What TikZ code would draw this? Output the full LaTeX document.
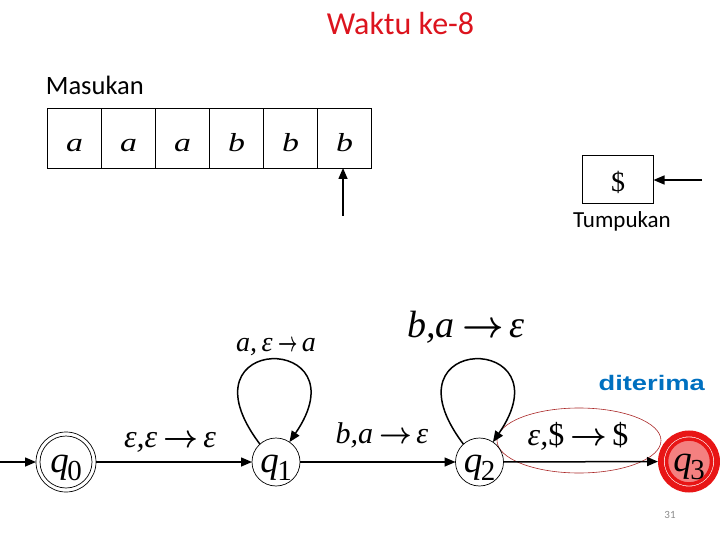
\RequirePackage{fix-cm}
\documentclass[tikz,border=0pt]{standalone}
\usepackage{fontspec}
\usepackage{graphicx}
\newfontfamily\carl{Carlito}
\newfontfamily\arialf{Liberation Sans}
\newfontfamily\tms{Liberation Serif}
\usetikzlibrary{arrows.meta}
\definecolor{titlered}{RGB}{220,20,30}
\definecolor{ringred}{RGB}{232,22,22}
\definecolor{fillred}{RGB}{244,128,128}
\definecolor{ellred}{RGB}{170,40,40}
\definecolor{blu}{RGB}{0,112,192}
\definecolor{pgray}{RGB}{140,140,140}
\newcommand\stname[1]{{\tms\itshape\fontsize{37}{37}\selectfont q\/}\hspace{-1.5pt}\raisebox{-8pt}{\tms\fontsize{29}{29}\selectfont #1}}
\newcommand\tlet[1]{\scalebox{1.3}[1]{\tms\itshape #1}}
% #1 left part, #2 right part, #3 arrow x-scale
\newcommand\trlab[3]{{\tms\itshape #1}\hspace{0.2em}\scalebox{#3}[1]{\boldmath$\rightarrow$}\hspace{0.15em}{\tms\itshape #2}}
\begin{document}
\begin{tikzpicture}[x=1pt,y=-1pt,
 every node/.style={inner sep=0pt,outer sep=0pt},
 cell/.style={draw,line width=0.8pt,minimum width=54pt,minimum height=60pt,text height=28pt,text depth=0pt,font=\fontsize{26}{26}\selectfont},
 edge/.style={line width=1.5pt,-{Triangle[length=11pt,width=9pt]}},
 state/.style={circle,draw,line width=0.7pt,minimum size=48pt,text height=28pt,text depth=8pt},
 lab/.style={font=\fontsize{#1}{#1}\selectfont}
]
\useasboundingbox (0,0) rectangle (720,540);
% titles
\node[anchor=base,text=titlered,font=\carl\fontsize{32}{38}\selectfont] (title) at (400.5,35) {Waktu ke-8};
\node[anchor=base,font=\carl\fontsize{26.5}{30}\selectfont] (mas) at (94.8,95) {Masukan};
\node[anchor=base,font=\carl\fontsize{23}{27}\selectfont] (tum) at (622,228) {Tumpukan};
\node[anchor=base,text=blu,font=\arialf\bfseries\fontsize{21}{25}\selectfont] (dit) at (651.7,390) {\scalebox{1.3}[1]{diterima}};
\node[anchor=base,text=pgray,font=\carl\fontsize{11}{13}\selectfont] (pg) at (670,518.7) {31};
% tape
\node[cell] (c1) at (74.5,138) {\tlet{a}};
\node[cell] (c2) at (128.5,138) {\tlet{a}};
\node[cell] (c3) at (182.5,138) {\tlet{a}};
\node[cell] (c4) at (236.5,138) {\tlet{b}};
\node[cell] (c5) at (290.5,138) {\tlet{b}};
\node[cell] (c6) at (344.5,138) {\tlet{b}};
\coordinate (hd) at (343,216);
\draw[edge] (hd) -- (hd |- c6.south);
% stack
\node[draw,line width=0.8pt,minimum width=71pt,minimum height=48pt,text height=24pt,text depth=0pt,font=\tms\fontsize{28}{28}\selectfont] (st) at (618,179.5) {\$};
\coordinate (sp) at (702,180);
\draw[edge] (sp) -- (sp -| st.east);
% highlight ellipse
\draw[ellred,line width=0.6pt] (579,440.5) ellipse [x radius=82pt,y radius=32.5pt];
% states
\node[state,minimum size=60pt] (q0) at (66,462) {\stname{0}};
\draw[line width=0.7pt] (q0.center) circle (26pt);
\node[state] (q1) at (276,462) {\stname{1}};
\node[state] (q2) at (479.5,462) {\stname{2}};
\node[circle,draw=ringred,line width=6pt,minimum size=56pt,outer sep=3pt,fill=white,text height=28pt,text depth=8pt,
  path picture={\draw[ringred,line width=3.5pt,fill=fillred] (path picture bounding box.center) circle (22.5pt);}] (q3) at (689,461.5) {\stname{3}};
\coordinate (start) at (0,462);
\draw[edge] (start) -- (q0);
\draw[edge] (q0) -- (q1);
\draw[edge] (q1) -- (q2);
\draw[edge] (q2) -- (q3);
\draw[edge] (q1.132) .. controls (175,332) and (365,332) .. (q1.56);
\draw[edge] (q2.132) .. controls (378.5,332) and (568.5,332) .. (q2.56);
% labels
\node[lab=32] (l01) at (170,442) {\trlab{ε,ε}{ε}{0.95}};
\node[lab=30] (l12) at (382,435) {\trlab{b,a}{ε}{0.95}};
\node[lab=28] (l11) at (276,347) {\trlab{a,\,ε}{a}{0.6}};
\node[lab=38] (l22) at (466,327) {\trlab{b,a}{ε}{0.95}};
\node[lab=32] (l23) at (578,436.5) {\trlab{ε,{\upshape\$}}{\upshape\$}{1}};
\end{tikzpicture}
\end{document}
